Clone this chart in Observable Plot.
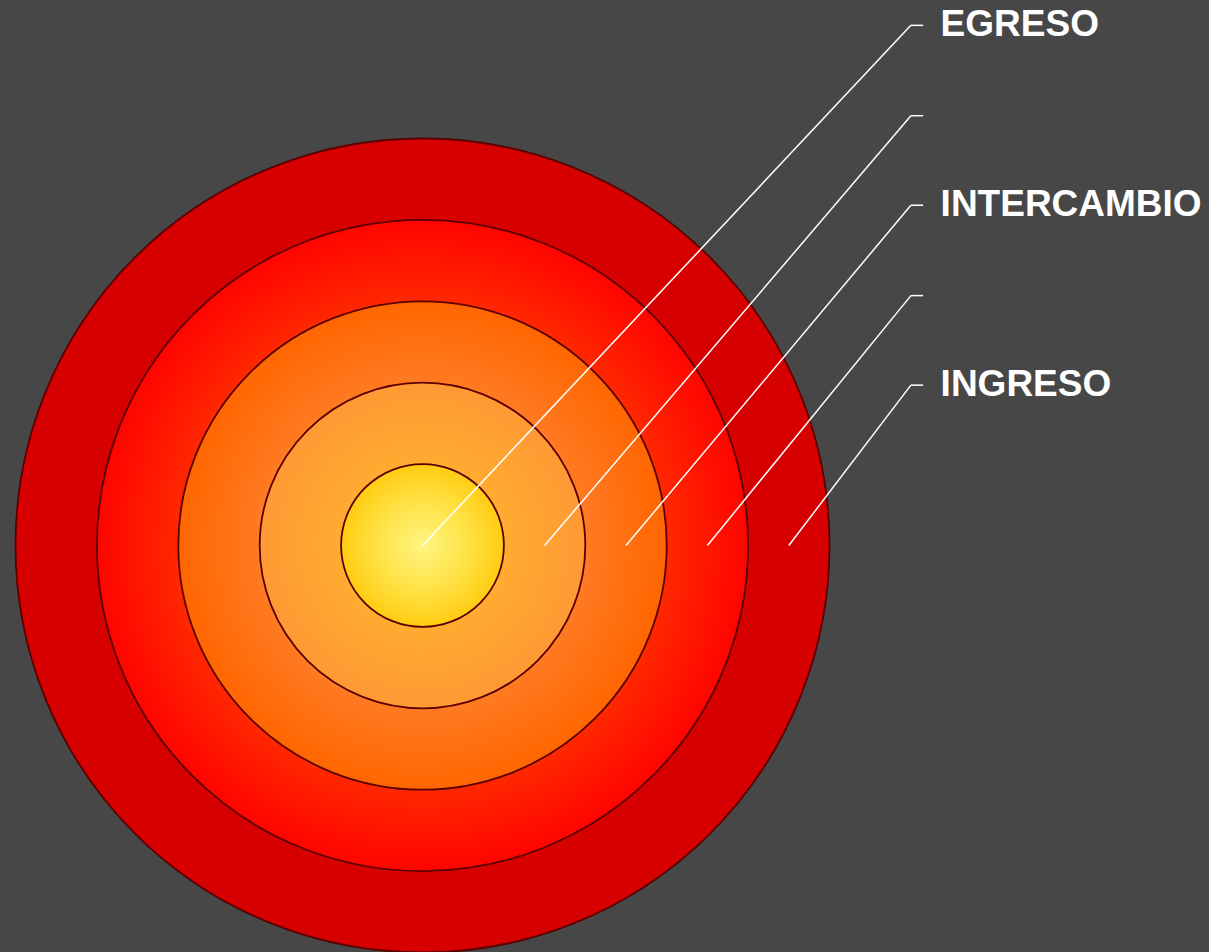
<!DOCTYPE html>
<html>
<head>
<meta charset="utf-8">
<script src="https://cdn.jsdelivr.net/npm/d3@7"></script>
<script src="https://cdn.jsdelivr.net/npm/@observablehq/plot@0.6"></script>
<style>
  html, body { margin: 0; padding: 0; background: #474747; }
  #chart svg { display: block; }
</style>
</head>
<body>
<div id="chart"></div>
<script>
// Rings (radius in ring units, outermost first)
const rings = [5, 4, 3, 2, 1];
const ringGradients = ["g5", "g4", "g3", "g2", "g1"];
// Leader lines: start point on the horizontal axis, end at label row
const lineStartX = [0, 1.5, 2.5, 3.5, 4.5];
const labelY = [6.39, 5.28, 4.18, 3.07, 1.97];
const labels = ["EGRESO", "", "INTERCAMBIO", "", "INGRESO"];

const ringData = rings.map((r, i) => ({x: 0, y: 0, r, fill: `url(#${ringGradients[i]})`}));
const leaders = lineStartX.map((x, i) => ({x1: x, y1: 0, x2: 6.0, y2: labelY[i]}));
const ticks = labelY.map((y, i) => ({x1: 6.0, y1: y, x2: 6.15, y2: y, label: labels[i]}));

const unit = 81.4;
const W = 1209, H = 952;
const plot = Plot.plot({
  width: W,
  height: H,
  margin: 0,
  style: {background: "#474747", overflow: "visible"},
  x: {domain: [-422 / unit, (W - 422) / unit], axis: null},
  y: {domain: [-(H - 545) / unit, 545 / unit], axis: null},
  r: {type: "linear", domain: [0, 5], range: [0, 5 * unit]},
  color: {type: "identity"},
  marks: [
    Plot.dot(ringData, {x: "x", y: "y", r: "r", fill: "fill", stroke: "#5a0000", strokeWidth: 1.8, sort: null}),
    Plot.link(leaders, {x1: "x1", y1: "y1", x2: "x2", y2: "y2", stroke: "white", strokeWidth: 1.5}),
    Plot.link(ticks, {x1: "x1", y1: "y1", x2: "x2", y2: "y2", stroke: "white", strokeWidth: 1.5}),
    Plot.text(ticks, {x: 6.365, y: "y1", dy: -1, text: "label", textAnchor: "start", fill: "white",
      fontSize: 37, fontWeight: "bold", fontFamily: "Liberation Sans, Arial, sans-serif"})
  ]
});

// gradient definitions
const defs = `
<defs>
  <radialGradient id="g5"><stop offset="0" stop-color="#d80000"/><stop offset="1" stop-color="#d70000"/></radialGradient>
  <radialGradient id="g4"><stop offset="0" stop-color="#ff5000"/><stop offset="0.75" stop-color="#ff2800"/><stop offset="1" stop-color="#ff0400"/></radialGradient>
  <radialGradient id="g3"><stop offset="0" stop-color="#ffa040"/><stop offset="0.67" stop-color="#ff7a22"/><stop offset="1" stop-color="#ff6600"/></radialGradient>
  <radialGradient id="g2"><stop offset="0" stop-color="#ffc030"/><stop offset="0.5" stop-color="#ffab30"/><stop offset="1" stop-color="#ff9934"/></radialGradient>
  <radialGradient id="g1"><stop offset="0" stop-color="#fff583"/><stop offset="0.6" stop-color="#ffe040"/><stop offset="1" stop-color="#ffcc11"/></radialGradient>
</defs>`;
plot.insertAdjacentHTML("afterbegin", defs);
document.getElementById("chart").appendChild(plot);
</script>
</body>
</html>
